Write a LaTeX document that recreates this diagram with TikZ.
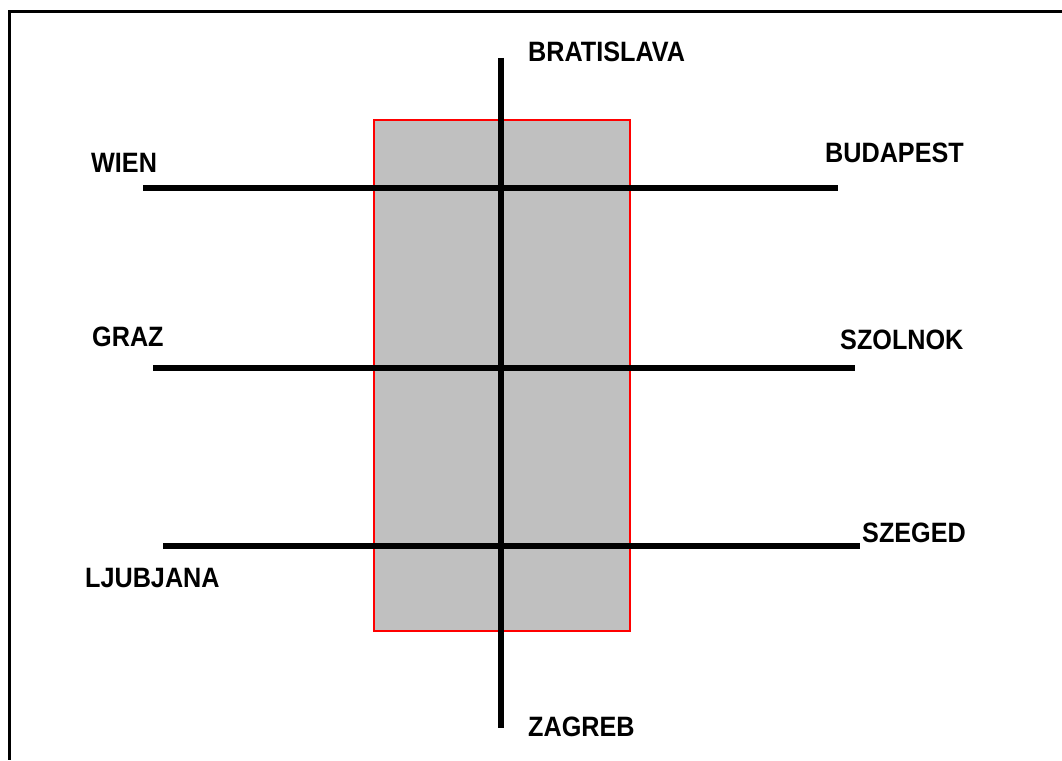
\documentclass[tikz,border=0pt]{standalone}
\usepackage{fontspec}
\setmainfont{Liberation Sans}[FakeStretch=0.9]
\begin{document}
\begin{tikzpicture}[x=1pt,y=-1pt,
  road/.style={line width=6pt,black},
  city/.style={inner sep=0pt,anchor=base west,font=\fontsize{28}{30}\selectfont\bfseries},
  zone/.style={fill={rgb,255:red,192;green,192;blue,192},draw=red,line width=1.5pt},
  frameline/.style={line width=3pt,black}]
\useasboundingbox (0,0) rectangle (1062,760);
% frame (top and left edges)
\coordinate (ftr) at (1062,12);
\coordinate (ftl) at (9,12);
\coordinate (fbl) at (9,760);
\draw[frameline] (ftr) -- (ftl) -- (fbl);
% grey zone
\node[zone,minimum width=256pt,minimum height=511pt,inner sep=0pt,anchor=north west] (zone) at (373,119) {};
% road end points
\coordinate (n) at (501,58);
\coordinate (s) at (501,728);
\coordinate (w1) at (143,188);
\coordinate (e1) at (838,188);
\coordinate (w2) at (153,368);
\coordinate (e2) at (855,368);
\coordinate (w3) at (163,546);
\coordinate (e3) at (860,546);
\draw[road] (n) -- (s);
\draw[road] (w1) -- (e1);
\draw[road] (w2) -- (e2);
\draw[road] (w3) -- (e3);
% city labels
\node[city] (wien) at (91,172) {WIEN};
\node[city] (bratislava) at (528,62) {BRATISLAVA};
\node[city] (budapest) at (825,162) {BUDAPEST};
\node[city] (szolnok) at (840,349) {SZOLNOK};
\node[city] (graz) at (92,346) {GRAZ};
\node[city] (ljubjana) at (85,587) {LJUBJANA};
\node[city] (szeged) at (862,542) {SZEGED};
\node[city] (zagreb) at (528,736) {ZAGREB};
\end{tikzpicture}
\end{document}
